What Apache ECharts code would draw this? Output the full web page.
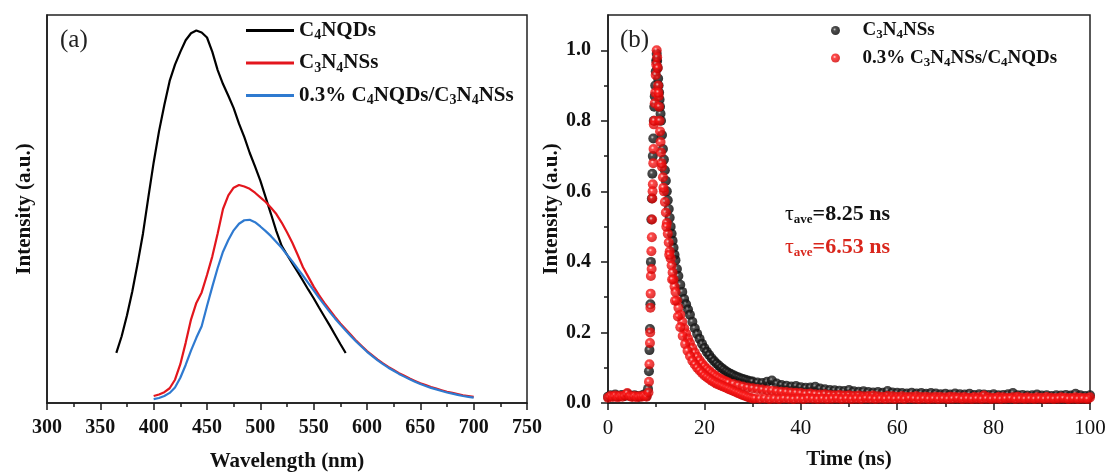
<!DOCTYPE html>
<html><head><meta charset="utf-8">
<script src="https://cdn.jsdelivr.net/npm/echarts@6/dist/echarts.min.js"></script>
<style>html,body{margin:0;padding:0;background:#fff}#c{width:1108px;height:473px}</style>
</head><body><div id="c"></div>
<script>
// ---------- Panel (a): PL spectra ----------
const wlBlack = [365,370,375,380,385,390,395,400,405,410,
  415,420,425,430,435,440,445,450,455,460,
  465,470,475,480,485,490,495,500,505,510,
  515,520,525,530,535,540,545,550,555,560,
  565,570,575,580];
const intBlack = [0.129,0.172,0.226,0.288,0.36,0.437,0.53,0.62,0.7,0.768,
  0.83,0.872,0.905,0.935,0.953,0.96,0.955,0.942,0.905,0.858,
  0.822,0.792,0.76,0.72,0.685,0.645,0.61,0.573,0.53,0.487,
  0.443,0.405,0.382,0.36,0.338,0.315,0.292,0.27,0.246,0.223,
  0.2,0.176,0.152,0.129];
const wlPL = [400,405,410,415,420,425,430,435,440,445,
  450,455,460,465,470,475,480,485,490,495,
  500,505,510,515,520,525,530,535,540,545,
  550,555,560,565,570,575,580,585,590,595,
  600,605,610,615,620,625,630,635,640,645,
  650,655,660,665,670,675,680,685,690,695,
  700];
const intRed = [0.018,0.022,0.028,0.038,0.06,0.1,0.155,0.215,0.258,0.285,
  0.33,0.378,0.437,0.5,0.535,0.555,0.562,0.558,0.552,0.542,
  0.53,0.518,0.503,0.487,0.465,0.44,0.413,0.382,0.35,0.325,
  0.3,0.278,0.258,0.24,0.222,0.205,0.19,0.175,0.16,0.147,
  0.134,0.123,0.112,0.102,0.093,0.085,0.077,0.07,0.063,0.057,
  0.051,0.046,0.041,0.037,0.033,0.029,0.026,0.023,0.02,0.018,
  0.016];
const intBlue = [0.01,0.013,0.018,0.026,0.04,0.065,0.098,0.135,0.168,0.198,
  0.25,0.3,0.348,0.39,0.42,0.445,0.462,0.471,0.472,0.466,
  0.455,0.443,0.43,0.415,0.4,0.382,0.365,0.346,0.328,0.309,
  0.29,0.271,0.253,0.235,0.218,0.202,0.187,0.172,0.158,0.145,
  0.132,0.121,0.11,0.1,0.091,0.083,0.075,0.068,0.061,0.055,
  0.049,0.044,0.039,0.035,0.031,0.027,0.024,0.021,0.018,0.016,
  0.014];

// ---------- Panel (b): TRPL decay [time ns, normalized intensity] ----------
const decayBlack = [[0,0.018],[0.5,0.022],[1,0.02],[1.5,0.024],[2,0.019],[2.5,0.021],[3,0.023],[3.5,0.02],[4,0.026],[4.5,0.021],[5,0.019],[5.5,0.022],[6,0.02],[6.5,0.018],[7,0.021],[7.5,0.024],[8,0.02],
  [8.3,0.04],[8.5,0.09],[8.6,0.15],[8.7,0.21],[8.8,0.28],[8.9,0.4],[9,0.52],[9.1,0.58],[9.2,0.65],[9.3,0.7],[9.4,0.75],[9.5,0.8],[9.6,0.84],[9.7,0.87],[9.8,0.9],[9.9,0.94],[10,0.97],[10.1,0.99],[10.2,0.97],[10.3,0.95],[10.4,0.92],[10.5,0.9],[10.6,0.88],[10.7,0.86],[10.8,0.84],[10.9,0.82],[11,0.8],
  [11.2,0.76],[11.4,0.72],[11.6,0.69],[11.8,0.66],[12,0.63],[12.2,0.6],[12.4,0.575],[12.6,0.55],[12.8,0.525],[13,0.5],[13.2,0.48],[13.4,0.46],[13.6,0.44],[13.8,0.42],[14,0.405],[14.3,0.38],[14.6,0.36],[15,0.335],[15.4,0.315],[15.8,0.295],[16.2,0.28],[16.6,0.265],[17,0.25],[17.5,0.23],[18,0.212],[18.5,0.196],[19,0.182],[19.5,0.168],[20,0.156],[20.5,0.145],[21,0.136],[21.5,0.127],[22,0.119],[22.5,0.112],[23,0.106],[23.5,0.1],[24,0.095],[24.5,0.09],[25,0.086],[25.5,0.082],[26,0.079],[26.5,0.075],[27,0.073],[27.5,0.07],[28,0.068],[28.5,0.066],[29,0.064],[29.5,0.062],[30,0.061],
  [31,0.058],[32,0.057],[33,0.06],[34,0.064],[35,0.055],[36,0.051],[37,0.049],[38,0.047],[39,0.048],[40,0.045],[41,0.043],[42,0.044],[43,0.046],[44,0.041],[45,0.039],[46,0.037],[47,0.036],[48,0.035],[49,0.034],[50,0.037],[51,0.033],[52,0.032],[53,0.033],[54,0.031],[55,0.03],[56,0.031],[57,0.029],[58,0.034],[59,0.03],[60,0.029],[61,0.028],[62,0.027],[63,0.029],[64,0.027],[65,0.028],[66,0.026],[67,0.028],[68,0.027],[69,0.025],[70,0.026],[71,0.024],[72,0.027],[73,0.025],[74,0.024],[75,0.026],[76,0.023],[77,0.025],[78,0.024],[79,0.023],[80,0.025],[81,0.022],[82,0.023],[83,0.025],[84,0.028],[85,0.022],[86,0.023],[87,0.021],[88,0.022],[89,0.024],[90,0.021],[91,0.022],[92,0.02],[93,0.022],[94,0.021],[95,0.023],[96,0.021],[97,0.026],[98,0.022],[99,0.02],[100,0.022]];
const decayRedMain = [[0,0.015],[0.5,0.02],[1,0.017],[1.5,0.021],[2,0.016],[2.5,0.02],[3,0.018],[3.5,0.022],[4,0.028],[4.5,0.019],[5,0.017],[5.5,0.02],[6,0.016],[6.5,0.019],[7,0.018],[7.5,0.021],[8,0.018],
  [8.4,0.03],[8.5,0.06],[8.6,0.11],[8.7,0.17],[8.75,0.2],[8.8,0.27],[8.85,0.31],[8.9,0.36],[9,0.43],[9.1,0.47],[9.15,0.52],[9.2,0.58],[9.3,0.62],[9.4,0.68],[9.45,0.72],[9.5,0.79],[9.6,0.8],[9.7,0.85],[9.8,0.88],[9.9,0.93],[10,0.96],[10.1,1.0],[10.2,0.98],[10.3,0.95],[10.4,0.9],[10.5,0.87],[10.6,0.84],[10.7,0.8],[10.8,0.77],[10.9,0.74],[11,0.71],
  [11.2,0.67],[11.4,0.64],[11.6,0.6],[11.8,0.57],[12,0.54],[12.2,0.51],[12.4,0.48],[12.6,0.455],[12.8,0.43],[13,0.41],[13.2,0.39],[13.4,0.37],[13.6,0.35],[13.8,0.33],[14,0.315],[14.3,0.29],[14.6,0.27],[15,0.25],[15.4,0.23],[15.8,0.212],[16.2,0.197],[16.6,0.183],[17,0.17],[17.5,0.156],[18,0.143],[18.5,0.131],[19,0.121],[19.5,0.112],[20,0.104],[20.5,0.097],[21,0.091],[21.5,0.085],[22,0.08],[22.5,0.075],[23,0.071],[23.5,0.067],[24,0.064],[24.5,0.061],[25,0.058],[26,0.054],[27,0.05],[28,0.047],[29,0.044],[30,0.042],
  [31,0.04],[32,0.038],[33,0.036],[34,0.035],[35,0.033],[36,0.032],[37,0.031],[38,0.03],[39,0.029],[40,0.028],[41,0.026],[42,0.027],[43,0.025],[44,0.024],[45,0.025],[46,0.023],[47,0.022],[48,0.023],[49,0.021],[50,0.022],[51,0.02],[52,0.021],[53,0.019],[54,0.02],[55,0.021],[56,0.019],[57,0.018],[58,0.02],[59,0.019],[60,0.018],[61,0.019],[62,0.017],[63,0.018],[64,0.019],[65,0.017],[66,0.018],[67,0.016],[68,0.018],[69,0.017],[70,0.016],[71,0.018],[72,0.017],[73,0.016],[74,0.017],[75,0.015],[76,0.017],[77,0.016],[78,0.021],[79,0.016],[80,0.015],[81,0.017],[82,0.016],[83,0.015],[84,0.016],[85,0.018],[86,0.015],[87,0.016],[88,0.014],[89,0.016],[90,0.015],[91,0.017],[92,0.015],[93,0.014],[94,0.016],[95,0.015],[96,0.014],[97,0.016],[98,0.015],[99,0.014],[100,0.016]];
const decayRedFast = [[9.05,0.38],[9.25,0.6],[10.45,0.88],[11.1,0.68],[11.5,0.61],[12.1,0.5],[12.7,0.42],[13.3,0.35],[13.9,0.29],[14.5,0.245],[15,0.215],[15.5,0.19],[16,0.167],[16.5,0.148],[17,0.133],[17.5,0.12],[18,0.109],[18.5,0.1],[19,0.092],[19.5,0.085],[20,0.078],[20.5,0.073],[21,0.068],[21.5,0.063],[22,0.059],[22.5,0.055],[23,0.052],[23.5,0.049],[24,0.046],[24.5,0.043],[25,0.04],[25.5,0.037],[26,0.034],[26.5,0.031],[27,0.028],[27.5,0.025],[28,0.022],[28.5,0.02],[29,0.017],[29.5,0.015],[30,0.013],
  [30.5,0.013],[31.5,0.012],[32.5,0.013],[33.5,0.011],[34.5,0.012],[35.5,0.011],[36.5,0.013],[37.5,0.012],[38.5,0.011],[39.5,0.012],[40.5,0.011],[41.5,0.013],[42.5,0.012],[43.5,0.011],[44.5,0.012],[45.5,0.011],[46.5,0.012],[47.5,0.013],[48.5,0.011],[49.5,0.012],[50.5,0.011],[51.5,0.012],[52.5,0.011],[53.5,0.013],[54.5,0.012],[55.5,0.011],[56.5,0.012],[57.5,0.011],[58.5,0.012],[59.5,0.011],[60.5,0.012],[61.5,0.011],[62.5,0.013],[63.5,0.012],[64.5,0.011],[65.5,0.012],[66.5,0.011],[67.5,0.012],[68.5,0.011],[69.5,0.012],[70.5,0.011],[71.5,0.012],[72.5,0.013],[73.5,0.011],[74.5,0.012],[75.5,0.011],[76.5,0.012],[77.5,0.011],[78.5,0.012],[79.5,0.011],[80.5,0.012],[81.5,0.011],[82.5,0.012],[83.5,0.013],[84.5,0.011],[85.5,0.012],[86.5,0.011],[87.5,0.012],[88.5,0.011],[89.5,0.012],[90.5,0.011],[91.5,0.012],[92.5,0.011],[93.5,0.012],[94.5,0.013],[95.5,0.011],[96.5,0.012],[97.5,0.011],[98.5,0.012],[99.5,0.011]];

const yTicksB = [0, 0.2, 0.4, 0.6, 0.8, 1.0];
const yMinorB = [0.1, 0.3, 0.5, 0.7, 0.9];

// legend display labels (rich text with subscripts)
const legendLabels = {
  'C4NQDs': '{m|C}{s|4}{m|NQDs}',
  'C3N4NSs': '{m|C}{s|3}{m|N}{s|4}{m|NSs}',
  '0.3% C4NQDs/C3N4NSs': '{m|0.3% C}{s|4}{m|NQDs/C}{s|3}{m|N}{s|4}{m|NSs}',
  'C3N4NSs (TRPL)': '{m|C}{s|3}{m|N}{s|4}{m|NSs}',
  '0.3% C3N4NSs/C4NQDs': '{m|0.3% C}{s|3}{m|N}{s|4}{m|NSs/C}{s|4}{m|NQDs}'
};

const SERIF = '"Liberation Serif","Times New Roman",Times,serif';
const AX = '#1a1a1a';
const zip = (xs, ys) => xs.map((x, i) => [x, ys[i]]);

const redFill = new echarts.graphic.RadialGradient(0.4, 0.38, 0.62, [
  {offset: 0, color: '#ffdede'}, {offset: 0.28, color: '#ff1c1c'}, {offset: 1, color: '#d00000'}]);
const blackFill = new echarts.graphic.RadialGradient(0.4, 0.38, 0.62, [
  {offset: 0, color: '#bcbcbc'}, {offset: 0.28, color: '#222222'}, {offset: 1, color: '#000000'}]);

const axisLineStyle = {lineStyle: {color: AX, width: 1.5}};
const tickStyle = {lineStyle: {color: AX, width: 1.5}};
const nameStyle = {fontFamily: SERIF, fontWeight: 'bold', fontSize: 21, color: '#111'};

const chart = echarts.init(document.getElementById('c'));
chart.setOption({
  animation: false,
  backgroundColor: '#fff',
  grid: [
    {left: 47, top: 15, width: 480, height: 388, show: true, borderColor: '#222', borderWidth: 1.5,
     containLabel: false, outerBoundsMode: 'none'},
    {left: 608, top: 15, width: 482, height: 388, show: true, borderColor: '#222', borderWidth: 1.5,
     containLabel: false, outerBoundsMode: 'none'}
  ],
  xAxis: [
    {gridIndex: 0, type: 'value', min: 300, max: 750, interval: 50,
     axisLine: axisLineStyle, axisTick: {length: 7, ...tickStyle},
     minorTick: {show: true, splitNumber: 2, length: 4, lineStyle: {color: AX, width: 1.5}},
     splitLine: {show: false},
     axisLabel: {fontFamily: SERIF, fontWeight: 'bold', fontSize: 20, color: '#111', margin: 15},
     name: 'Wavelength (nm)', nameLocation: 'middle', nameGap: 48, nameTextStyle: nameStyle},
    {gridIndex: 1, type: 'value', min: 0, max: 100, interval: 20,
     axisLine: axisLineStyle, axisTick: {length: 7, ...tickStyle},
     minorTick: {show: true, splitNumber: 2, length: 4, lineStyle: {color: AX, width: 1.5}},
     splitLine: {show: false},
     axisLabel: {fontFamily: SERIF, fontWeight: 'normal', fontSize: 21, color: '#111', margin: 15},
     name: 'Time (ns)', nameLocation: 'middle', nameGap: 46, nameTextStyle: nameStyle}
  ],
  yAxis: [
    {gridIndex: 0, type: 'value', min: 0, max: 1,
     axisLine: {show: true, ...axisLineStyle}, axisTick: {show: false}, axisLabel: {show: false},
     splitLine: {show: false},
     name: 'Intensity (a.u.)', nameLocation: 'middle', nameGap: 12, nameTextStyle: nameStyle},
    {gridIndex: 1, type: 'value', min: 0, max: 1.1,
     axisLine: {show: true, ...axisLineStyle},
     axisTick: {length: 7, customValues: yTicksB, ...tickStyle},
     axisLabel: {customValues: yTicksB, fontFamily: SERIF, fontWeight: 'bold', fontSize: 20, color: '#111', margin: 17,
                 formatter: v => v.toFixed(1)},
     splitLine: {show: false},
     name: 'Intensity (a.u.)', nameLocation: 'middle', nameGap: 38, nameTextStyle: nameStyle},
    {gridIndex: 1, type: 'value', min: 0, max: 1.1, position: 'left',
     axisLine: {show: false},
     axisTick: {length: 4, customValues: yMinorB, ...tickStyle},
     axisLabel: {show: false}, splitLine: {show: false}}
  ],
  legend: [
    {orient: 'vertical', left: 246, top: 20, padding: 0, itemGap: 10,
     icon: 'rect', itemWidth: 48, itemHeight: 3,
     data: ['C4NQDs', 'C3N4NSs', '0.3% C4NQDs/C3N4NSs'],
     formatter: n => legendLabels[n],
     textStyle: {rich: {
       m: {fontFamily: SERIF, fontWeight: 'bold', fontSize: 21, lineHeight: 24, color: '#111'},
       s: {fontFamily: SERIF, fontWeight: 'bold', fontSize: 14, lineHeight: 12, verticalAlign: 'bottom', color: '#111'}}}},
    {orient: 'vertical', left: 831, top: 21, padding: 0, itemGap: 7,
     icon: 'circle', itemWidth: 44, itemHeight: 9,
     data: ['C3N4NSs (TRPL)', '0.3% C3N4NSs/C4NQDs'],
     formatter: n => legendLabels[n],
     textStyle: {rich: {
       m: {fontFamily: SERIF, fontWeight: 'bold', fontSize: 19, lineHeight: 22, color: '#111'},
       s: {fontFamily: SERIF, fontWeight: 'bold', fontSize: 13, lineHeight: 11, verticalAlign: 'bottom', color: '#111'}}}}
  ],
  graphic: [
    {type: 'text', x: 60, y: 40, style: {text: '(a)', font: '25px ' + SERIF, fill: '#222', verticalAlign: 'middle', textVerticalAlign: 'middle'}},
    {type: 'text', x: 620, y: 40, style: {text: '(b)', font: '25px ' + SERIF, fill: '#222', verticalAlign: 'middle', textVerticalAlign: 'middle'}},
    {type: 'text', x: 785, y: 214, style: {
      text: '{t|τ}{a|ave}{e|=8.25 ns}', verticalAlign: 'middle', textVerticalAlign: 'middle',
      rich: {t: {fontFamily: SERIF, fontSize: 22, lineHeight: 24, fill: '#111'},
             a: {fontFamily: SERIF, fontWeight: 'bold', fontSize: 13, lineHeight: 11, verticalAlign: 'bottom', fill: '#111'},
             e: {fontFamily: SERIF, fontWeight: 'bold', fontSize: 22, lineHeight: 24, fill: '#111'}}}},
    {type: 'text', x: 785, y: 247, style: {
      text: '{t|τ}{a|ave}{e|=6.53 ns}', verticalAlign: 'middle', textVerticalAlign: 'middle',
      rich: {t: {fontFamily: SERIF, fontSize: 22, lineHeight: 24, fill: '#d9261c'},
             a: {fontFamily: SERIF, fontWeight: 'bold', fontSize: 13, lineHeight: 11, verticalAlign: 'bottom', fill: '#d9261c'},
             e: {fontFamily: SERIF, fontWeight: 'bold', fontSize: 22, lineHeight: 24, fill: '#d9261c'}}}}
  ],
  series: [
    {name: 'C4NQDs', type: 'line', xAxisIndex: 0, yAxisIndex: 0, symbol: 'none',
     lineStyle: {color: '#000', width: 2.2}, itemStyle: {color: '#000'}, data: zip(wlBlack, intBlack)},
    {name: 'C3N4NSs', type: 'line', xAxisIndex: 0, yAxisIndex: 0, symbol: 'none',
     lineStyle: {color: '#e3161d', width: 2.2}, itemStyle: {color: '#e3161d'}, data: zip(wlPL, intRed)},
    {name: '0.3% C4NQDs/C3N4NSs', type: 'line', xAxisIndex: 0, yAxisIndex: 0, symbol: 'none',
     lineStyle: {color: '#2f7ad0', width: 2.2}, itemStyle: {color: '#2f7ad0'}, data: zip(wlPL, intBlue)},
    {name: 'C3N4NSs (TRPL)', type: 'scatter', xAxisIndex: 1, yAxisIndex: 1, symbolSize: 10,
     itemStyle: {color: blackFill}, data: decayBlack},
    {name: '0.3% C3N4NSs/C4NQDs', type: 'scatter', xAxisIndex: 1, yAxisIndex: 1, symbolSize: 10,
     itemStyle: {color: redFill}, data: decayRedMain.concat(decayRedFast)}
  ]
});
</script></body></html>
